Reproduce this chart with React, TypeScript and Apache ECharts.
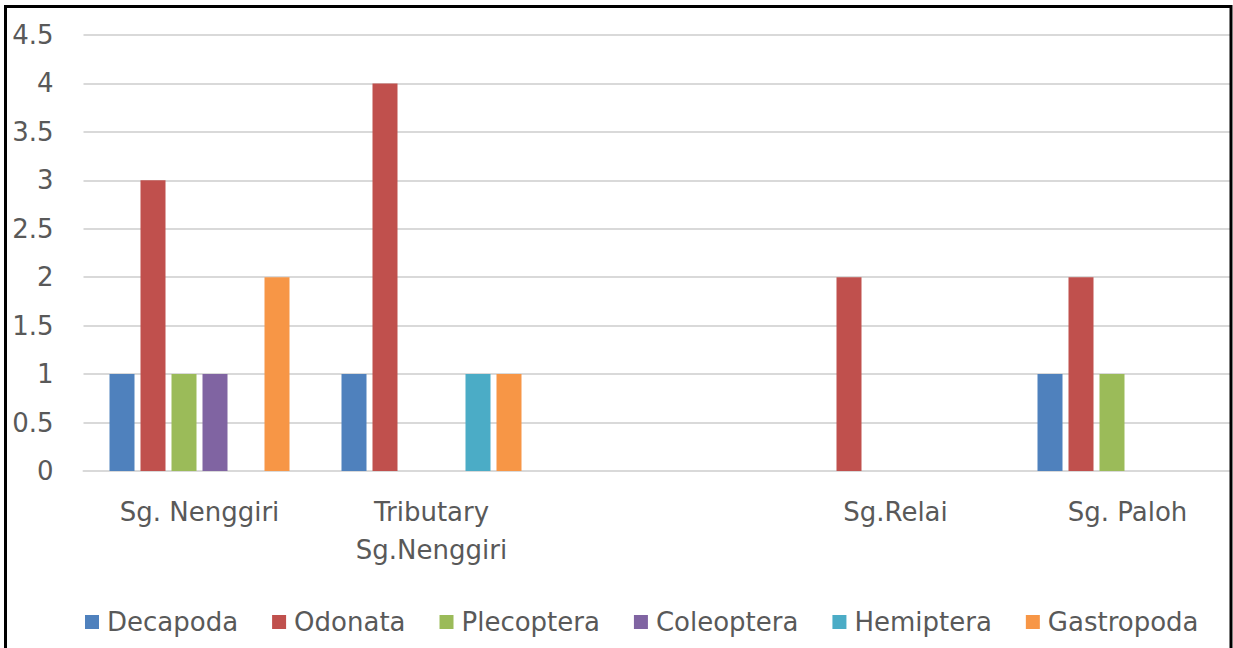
import React, { useEffect, useRef } from "react";
import * as echarts from "echarts";

const categories = ["Sg. Nenggiri", "Tributary\nSg.Nenggiri", "", "Sg.Relai", "Sg. Paloh"];
const seriesNames = ["Decapoda", "Odonata", "Plecoptera", "Coleoptera", "Hemiptera", "Gastropoda"];
const colors = ["#4F81BD", "#C0504D", "#9BBB59", "#8064A2", "#4BACC6", "#F79646"];
const decapoda = [1, 1, null, null, 1];
const odonata = [3, 4, null, 2, 2];
const plecoptera = [1, null, null, null, 1];
const coleoptera = [1, null, null, null, null];
const hemiptera = [null, 1, null, null, null];
const gastropoda = [2, 1, null, null, null];
const allValues = [decapoda, odonata, plecoptera, coleoptera, hemiptera, gastropoda];

const FONT = "DejaVu Sans";
const TEXT = "#595959";
const FS = 26;

export default function App() {
  const ref = useRef<HTMLDivElement>(null);
  useEffect(() => {
    if (!ref.current) return;
    const chart = echarts.init(ref.current, null, { renderer: "svg" });
    chart.setOption({
      animation: false,
      backgroundColor: "#fff",
      textStyle: { fontFamily: FONT },
      grid: { left: 83.5, top: 35, width: 1160, height: 436 },
      legend: {
        left: 80,
        top: 604,
        itemWidth: 14,
        itemHeight: 14,
        itemGap: 34,
        icon: "rect",
        data: seriesNames,
        textStyle: { fontFamily: FONT, fontSize: FS, color: TEXT, padding: [0, 0, 0, 3] },
      },
      xAxis: {
        type: "category",
        data: categories,
        axisTick: { show: false },
        axisLine: { lineStyle: { color: "#D9D9D9", width: 2 } },
        axisLabel: { fontFamily: FONT, fontSize: FS, color: TEXT, margin: 22, lineHeight: 38, interval: 0 },
      },
      yAxis: {
        type: "value",
        min: 0,
        max: 4.5,
        interval: 0.5,
        axisLine: { show: false },
        axisTick: { show: false },
        splitLine: { lineStyle: { color: "#D9D9D9", width: 2 } },
        axisLabel: { fontFamily: FONT, fontSize: FS, color: TEXT, margin: 30 },
      },
      series: seriesNames.map((name, i) => ({
        name,
        type: "bar",
        data: allValues[i],
        barWidth: 25,
        barGap: "24%",
        itemStyle: { color: colors[i] },
      })),
      graphic: [
        {
          type: "rect",
          z: 100,
          shape: { x: 5.5, y: 6.5, width: 1225.5, height: 700 },
          style: { fill: "none", stroke: "#000", lineWidth: 3 },
        },
        {
          type: "rect",
          z: 99,
          shape: { x: 1232, y: 0, width: 60, height: 700 },
          style: { fill: "#fff" },
        },
      ],
    });
    return () => chart.dispose();
  }, []);
  return (
    <div style={{ position: "absolute", left: 0, top: 0, width: 1233, height: 648, overflow: "hidden", background: "#fff" }}>
      <div ref={ref} style={{ width: 1280, height: 648 }} />
    </div>
  );
}
